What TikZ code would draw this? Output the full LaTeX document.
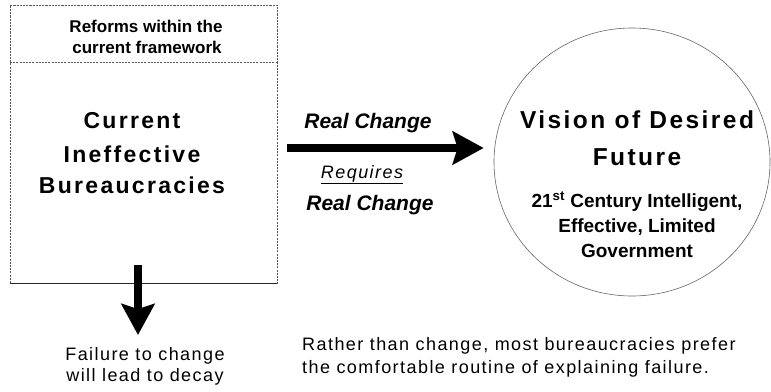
\documentclass[tikz,border=0pt]{standalone}
\usepackage{fontspec}
\setmainfont{Liberation Sans}
\newfontfamily\spaced[LetterSpace=8]{Liberation Sans}
\newfontfamily\widesp[LetterSpace=10]{Liberation Sans}
\usetikzlibrary{arrows.meta,shapes.geometric}
\begin{document}
\begin{tikzpicture}[x=1pt,y=-1pt,
  lbl/.style={inner sep=0pt, anchor=base},
  boxline/.style={draw=black!65, line width=0.7pt, dash pattern=on 2pt off 1.2pt, inner sep=0pt, outer sep=0pt},
  bigarrow/.style={line width=8pt, -{Stealth[length=31pt,width=33pt,inset=5pt]}},
  hd/.style={font=\widesp\bfseries\fontsize{23}{23}\selectfont},
  vhd/.style={font=\widesp\bfseries\fontsize{24.5}{24.5}\selectfont},
  subt/.style={font=\bfseries\fontsize{19}{19}\selectfont},
  reft/.style={font=\bfseries\fontsize{17}{17}\selectfont},
  rc/.style={font=\bfseries\itshape\fontsize{21}{21}\selectfont},
  plain/.style={font=\spaced\fontsize{18}{18}\selectfont},
]
\useasboundingbox (0,0) rectangle (771,391);
\fill[white] (0,0) rectangle (771,391);

% left boxes
\node[boxline, minimum width=267pt, minimum height=278pt] (box) at (143.5,144) {};
\node[boxline, minimum width=267pt, minimum height=57pt] (reform) at (143.5,33.5) {};
\draw[black!85, line width=0.8pt] (box.south west) -- (box.south east);

\node[lbl, reft] (ref1) at (146,32) {Reforms within the};
\node[lbl, reft] (ref2) at (147,53) {current framework};

\node[lbl, hd] (cur1) at (132,128) {Current};
\node[lbl, hd] (cur2) at (132,162) {Ineffective};
\node[lbl, hd] (cur3) at (132,193) {Bureaucracies};

% vision ellipse
\node[draw=black!60, line width=0.6pt, ellipse, minimum width=276pt, minimum height=268pt, inner sep=0pt] (vis) at (632,162) {};
\node[lbl, vhd] (vis1) at (637,128) {Vision of Desired};
\node[lbl, vhd] (vis2) at (637,165) {Future};
\node[lbl, subt] (vis3) at (637,207) {21\textsuperscript{st} Century Intelligent,};
\node[lbl, subt] (vis4) at (637,232) {Effective, Limited};
\node[lbl, subt] (vis5) at (637,257) {Government};

% horizontal arrow
\draw[bigarrow] ([xshift=10pt,yshift=-4pt]box.east) -- ([xshift=-10pt,yshift=14pt]vis.west);
\node[lbl, rc] (rc1) at (368,128) {Real Change};
\node[lbl, plain] (req) at (362,178) {\underline{\itshape Requires}};
\node[lbl, rc] (rc2) at (370,210) {Real Change};

% down arrow
\coordinate (decay) at (138,335);
\draw[bigarrow] ([xshift=-5.5pt,yshift=18pt]box.south) -- (decay);
\node[lbl, plain] (fail1) at (145,360) {Failure to change};
\node[lbl, plain] (fail2) at (145,381) {will lead to decay};

% bottom right note
\node[lbl, plain, anchor=base west] (note1) at (302,350) {Rather than change, most bureaucracies prefer};
\node[lbl, plain, anchor=base west] (note2) at (302,373) {the comfortable routine of explaining failure.};
\end{tikzpicture}
\end{document}
